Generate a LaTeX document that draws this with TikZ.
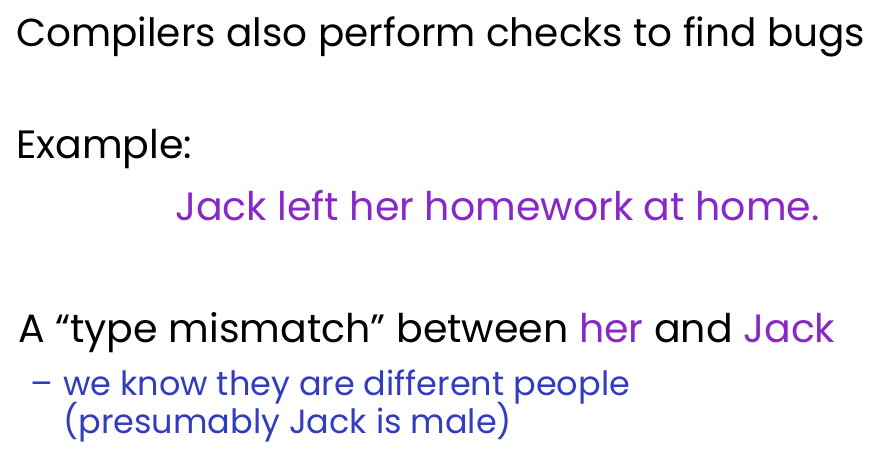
\documentclass[tikz,border=0pt]{standalone}
\usepackage{fontspec}
\setmainfont{Poppins}
\definecolor{jpurple}{RGB}{136,40,200}
\definecolor{jblue}{RGB}{50,60,190}
\tikzset{
  txt/.style={anchor=base west, inner sep=0pt, font=\fontsize{39.5}{46}\selectfont},
  sub/.style={anchor=base west, inner sep=0pt, font=\fontsize{33.5}{40}\selectfont, text=jblue}
}
\begin{document}
\begin{tikzpicture}[x=1pt,y=-1pt]
\useasboundingbox (0,0) rectangle (893,464);
\node[txt, font=\fontsize{39}{46}\selectfont] (l1) at (16,46) {Compilers also perform checks to find bugs};
\node[txt] (ex) at (16,158) {Example:};
\node[txt, text=jpurple] (jk) at (175,220) {Jack left her homework at home.};
\node[txt] (tm) at (18,342) {A “type mismatch” between \textcolor{jpurple}{her} and \textcolor{jpurple}{Jack}};
\node[sub] (da) at (30,395) {–};
\node[sub] (s1) at (63,395) {we know they are different people};
\node[sub] (s2) at (63,433) {(presumably Jack is male)};
\end{tikzpicture}
\end{document}
